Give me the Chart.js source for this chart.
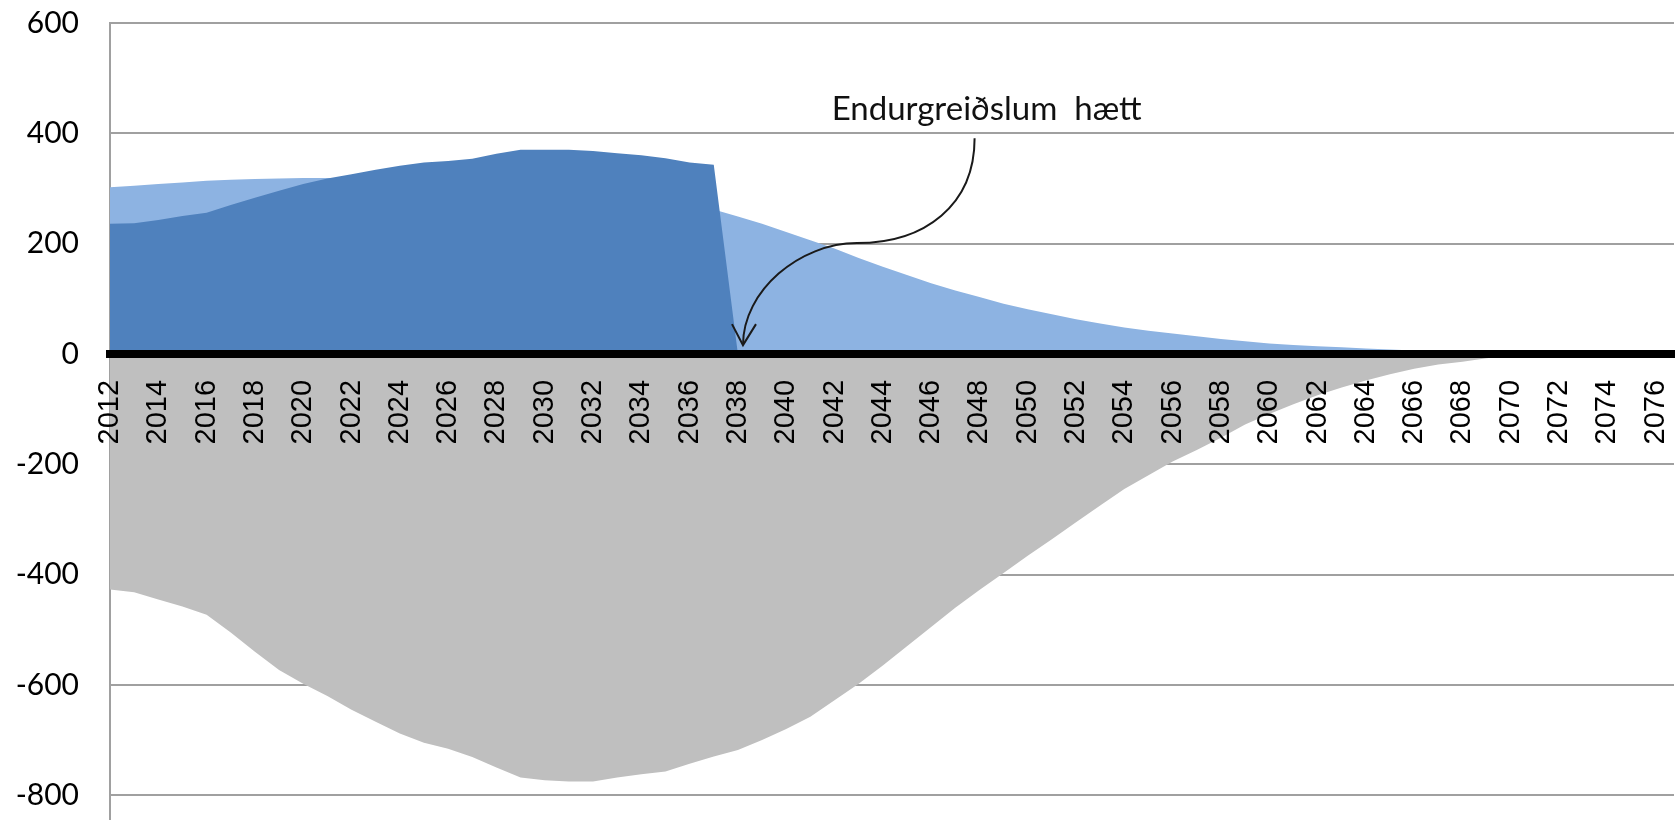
<!DOCTYPE html>
<html>
<head>
<meta charset="utf-8">
<script src="https://cdn.jsdelivr.net/npm/chart.js@4.4.1/dist/chart.umd.min.js"></script>
<style>
  html, body { margin: 0; padding: 0; background: #ffffff; overflow: hidden; }
  canvas { display: block; }
</style>
</head>
<body>
<canvas id="chart" width="1676" height="820"></canvas>
<script>
// ---- Data ----
const years = [
  2012, 2013, 2014, 2015, 2016, 2017, 2018, 2019, 2020, 2021,
  2022, 2023, 2024, 2025, 2026, 2027, 2028, 2029, 2030, 2031,
  2032, 2033, 2034, 2035, 2036, 2037, 2038, 2039, 2040, 2041,
  2042, 2043, 2044, 2045, 2046, 2047, 2048, 2049, 2050, 2051,
  2052, 2053, 2054, 2055, 2056, 2057, 2058, 2059, 2060, 2061,
  2062, 2063, 2064, 2065, 2066, 2067, 2068, 2069, 2070, 2071,
  2072, 2073, 2074, 2075, 2076
];

// dark blue area (repayments, stopped in 2038)
const repaymentValues = [
  236, 237, 243, 250, 256, 270, 283, 296, 308, 318,
  326, 334, 341, 347, 350, 354, 363, 370, 370, 370,
  368, 364, 360, 355, 347, 343, 0, 0, 0, 0,
  0, 0, 0, 0, 0, 0, 0, 0, 0, 0,
  0, 0, 0, 0, 0, 0, 0, 0, 0, 0,
  0, 0, 0, 0, 0, 0, 0, 0, 0, 0,
  0, 0, 0, 0, 0
];

// light blue area
const lightValues = [
  302, 305, 308, 311, 314, 316, 317, 318, 319, 319,
  318, 316, 313, 310, 306, 302, 298, 294, 290, 286,
  282, 278, 274, 270, 266, 262, 249, 236, 221, 206,
  191, 174, 158, 143, 128, 115, 103, 91, 81, 72,
  63, 55, 48, 42, 37, 32, 27, 23, 19, 16,
  14, 12, 10, 8, 6, 5, 4, 3, 2, 2,
  1, 1, 0, 0, 0
];

// grey (negative) area
const greyValues = [
  -427, -432, -445, -458, -473, -505, -540, -573, -598, -620,
  -645, -667, -688, -705, -716, -731, -750, -768, -773, -775,
  -775, -768, -762, -757, -743, -730, -718, -700, -680, -658,
  -628, -598, -565, -530, -495, -460, -428, -397, -366, -336,
  -305, -275, -245, -220, -195, -174, -152, -128, -109, -91,
  -75, -61, -48, -37, -27, -19, -14, -8, -3, -1,
  0, 0, 0, 0, 0
];

const yTickValues = [-800, -600, -400, -200, 0, 200, 400, 600];

// annotation (in data units)
const noteText = 'Endurgreiðslum  hætt';
const noteAnchor = { x: 2048.3, y: 443 };
const noteCurve = [
  [2047.8, 391], [2047.8, 270], [2045.75, 201], [2042.93, 201],
  [2040.57, 201], [2038.21, 115], [2038.21, 16]
];

// ---- Chart ----
const toPoints = (vals) => years.map((yr, i) => ({ x: yr, y: vals[i] }));

const areaStyle = (color) => ({
  backgroundColor: color,
  borderColor: color,
  borderWidth: 0,
  pointRadius: 0,
  pointHoverRadius: 0,
  tension: 0,
  fill: 'origin'
});

const annotationPlugin = {
  id: 'noteArrow',
  afterDatasetsDraw(chart) {
    const { ctx, scales: { x, y } } = chart;
    const P = (p) => [x.getPixelForValue(p[0]), y.getPixelForValue(p[1])];
    const pts = noteCurve.map(P);
    ctx.save();
    ctx.strokeStyle = '#1a1a1a';
    ctx.lineWidth = 2;
    ctx.beginPath();
    ctx.moveTo(pts[0][0], pts[0][1]);
    ctx.bezierCurveTo(pts[1][0], pts[1][1], pts[2][0], pts[2][1], pts[3][0], pts[3][1]);
    ctx.bezierCurveTo(pts[4][0], pts[4][1], pts[5][0], pts[5][1], pts[6][0], pts[6][1]);
    ctx.stroke();
    const tip = pts[6];
    ctx.beginPath();
    ctx.moveTo(tip[0] - 11, tip[1] - 21);
    ctx.lineTo(tip[0], tip[1]);
    ctx.lineTo(tip[0] + 13, tip[1] - 21);
    ctx.stroke();
    const t = P([noteAnchor.x, noteAnchor.y]);
    ctx.fillStyle = '#111111';
    ctx.font = '33px Lato, "DejaVu Sans", sans-serif';
    ctx.textAlign = 'center';
    ctx.textBaseline = 'middle';
    ctx.fillText(noteText, t[0], t[1]);
    ctx.restore();
  }
};

new Chart(document.getElementById('chart').getContext('2d'), {
  type: 'line',
  data: {
    datasets: [
      Object.assign({ label: 'Endurgreiðslur', data: toPoints(repaymentValues) }, areaStyle('#4F81BD')),
      Object.assign({ label: 'Ljósblátt', data: toPoints(lightValues) }, areaStyle('#8DB3E2')),
      Object.assign({ label: 'Grátt', data: toPoints(greyValues) }, areaStyle('#BFBFBF'))
    ]
  },
  options: {
    responsive: false,
    animation: false,
    devicePixelRatio: 1,
    layout: { padding: { top: 23, right: 2, bottom: 0, left: 0 } },
    plugins: {
      legend: { display: false },
      tooltip: { enabled: false }
    },
    scales: {
      x: {
        type: 'linear',
        position: { y: 0 },
        min: years[0],
        max: 2076.76,
        afterFit: (s) => { s.height = 0; s.paddingLeft = 0; s.paddingRight = 0; s.paddingTop = 0; s.paddingBottom = 0; },
        grid: { display: false, drawTicks: false },
        border: { display: true, color: '#000000', width: 8, z: 1 },
        ticks: {
          stepSize: 2,
          includeBounds: false,
          autoSkip: false,
          minRotation: 90,
          maxRotation: 90,
          padding: 26,
          z: 1,
          color: '#000000',
          font: { family: '"Liberation Sans", Arial, sans-serif', size: 29 },
          callback: (v) => String(v)
        }
      },
      y: {
        min: -845,
        max: 600,
        afterFit: (s) => { s.width = 110; s.paddingTop = 0; s.paddingBottom = 0; s.paddingLeft = 0; s.paddingRight = 0; },
        afterBuildTicks: (s) => { s.ticks = s.ticks.filter(t => yTickValues.includes(t.value)); },
        grid: { color: '#a0a0a0', lineWidth: 2, drawTicks: false },
        border: { color: '#a0a0a0', width: 2 },
        ticks: {
          stepSize: 200,
          includeBounds: false,
          padding: 31,
          color: '#000000',
          font: { family: 'Lato, "Liberation Sans", sans-serif', size: 30 }
        }
      }
    }
  },
  plugins: [annotationPlugin]
});
</script>
</body>
</html>
